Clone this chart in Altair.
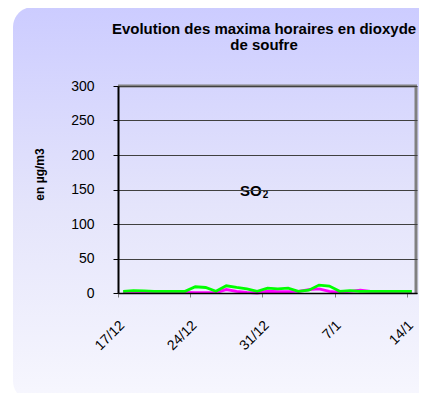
import altair as alt
import pandas as pd

dates = ["17/12","18/12","19/12","20/12","21/12","22/12","23/12","24/12","25/12","26/12",
         "27/12","28/12","29/12","30/12","31/12","1/1","2/1","3/1","4/1","5/1",
         "6/1","7/1","8/1","9/1","10/1","11/1","12/1","13/1","14/1"]
green = [2.5, 3.5, 3, 2.5, 2.5, 2.5, 2.5, 9, 8, 2.5, 10.5, 8, 6, 2.5, 7, 6, 7, 2.5, 4, 11.5,
         10, 2.5, 3.5, 2.5, 2.5, 2.5, 2.5, 2.5, 2.5]
magenta = [0.5, 0.5, 0.5, 0.5, 0.5, 1, 1, 0.5, 0.5, 0.5, 5, 2.5, 1, 0, 2.5, 2, 2, 2.5, 5, 6,
           2.5, 1, 2.5, 4, 2.5, 2, 2, 2, 2]
tick_labels = ["17/12", "24/12", "31/12", "7/1", "14/1"]
y_ticks = [0, 50, 100, 150, 200, 250, 300]
title_lines = ["Evolution des maxima horaires en dioxyde", "de soufre"]

W, H = 299, 207
FONT = "Liberation Sans"

rows = []
for i, d in enumerate(dates):
    rows.append({"day": i + 0.5, "date": d, "value": magenta[i], "series": "magenta"})
for i, d in enumerate(dates):
    rows.append({"day": i + 0.5, "date": d, "value": green[i], "series": "green"})
df = pd.DataFrame(rows)

xs = alt.Scale(domain=[0, 29], nice=False, zero=False)
ys = alt.Scale(domain=[0, 300], nice=False)

label_js = "[" + ",".join("'%s'" % t for t in tick_labels) + "][round(datum.value/7)]"

x_axis = alt.Axis(values=[0, 7, 14, 21, 28], labelExpr=label_js, labelAngle=-45,
                  labelAlign="right", labelBaseline="middle", labelPadding=26, labelOffset=4,
                  labelFont=FONT, labelFontSize=14, labelColor="black", labelOverlap=False,
                  tickColor="#808080", tickSize=4, domainColor="black", domainWidth=1.5,
                  grid=False, title=None, zindex=1)
y_axis = alt.Axis(values=y_ticks, tickCount=7, labelFont=FONT, labelFontSize=14, labelColor="black",
                  labelPadding=19, labelOverlap=False, tickColor="black", tickSize=5,
                  domainColor="black", domainWidth=2, grid=True, gridColor="#404040", gridWidth=1,
                  title="en µg/m3", titleFont=FONT, titleFontSize=12, titleFontWeight="bold",
                  titleColor="black", titleX=-79, titleY=88, titleAngle=-90,
                  titleAlign="center", titleBaseline="middle", zindex=1)

one = pd.DataFrame({"a": [0]})
bg = alt.Chart(one).mark_rect(
    cornerRadius=20,
    fill=alt.Gradient(gradient="linear", x1=0, y1=0, x2=0, y2=1,
                      stops=[alt.GradientStop(color="#ccccff", offset=0),
                             alt.GradientStop(color="#e4e4fb", offset=0.5),
                             alt.GradientStop(color="#f7f7fe", offset=1)])
).encode(x=alt.value(-105), x2=alt.value(340), y=alt.value(-79), y2=alt.value(315))

base = alt.Chart(df)
X = alt.X("day:Q", scale=xs, axis=x_axis)
Y = alt.Y("value:Q", scale=ys, axis=y_axis)
mag = base.transform_filter("datum.series == 'magenta'").mark_line(
    color="#ff00ff", strokeWidth=2.8).encode(x=X, y=Y)
grn = base.transform_filter("datum.series == 'green'").mark_line(
    color="#00ff00", strokeWidth=2.8).encode(x=X, y=Y)

top_rule = alt.Chart(one).mark_rule(color="#808080", strokeWidth=3).encode(
    x=alt.value(0), x2=alt.value(W), y=alt.value(0))
right_rule = alt.Chart(one).mark_rule(color="#808080", strokeWidth=3).encode(
    x=alt.value(W - 1), y=alt.value(0), y2=alt.value(H))

lab = pd.DataFrame({"day": [13.94], "value": [148], "t": ["SO"], "s": ["2"]})
so = alt.Chart(lab).mark_text(font=FONT, fontSize=15, fontWeight="bold", color="black",
                              align="right", baseline="middle").encode(x=X, y=Y, text="t:N")
so2 = alt.Chart(lab).mark_text(font=FONT, fontSize=10, fontWeight="bold", color="black",
                               align="left", baseline="middle", dx=1, dy=4).encode(x=X, y=Y, text="s:N")

t1 = alt.Chart(one).mark_text(font=FONT, fontSize=15, fontWeight="bold", color="black",
                              align="center", baseline="middle").encode(
    x=alt.value(146), y=alt.value(-57), text=alt.value(title_lines[0]))
t2 = alt.Chart(one).mark_text(font=FONT, fontSize=15, fontWeight="bold", color="black",
                              align="center", baseline="middle").encode(
    x=alt.value(146), y=alt.value(-41), text=alt.value(title_lines[1]))

chart = alt.layer(bg, mag, grn, top_rule, right_rule, so, so2, t1, t2).properties(
    width=W, height=H,
    autosize=alt.AutoSizeParams(type="none"),
    padding={"left": 110, "top": 78, "right": 2, "bottom": 100},
).configure_view(stroke=None).configure(background="white")

chart.save("out.html", embed_options={"renderer": "svg", "actions": False})
